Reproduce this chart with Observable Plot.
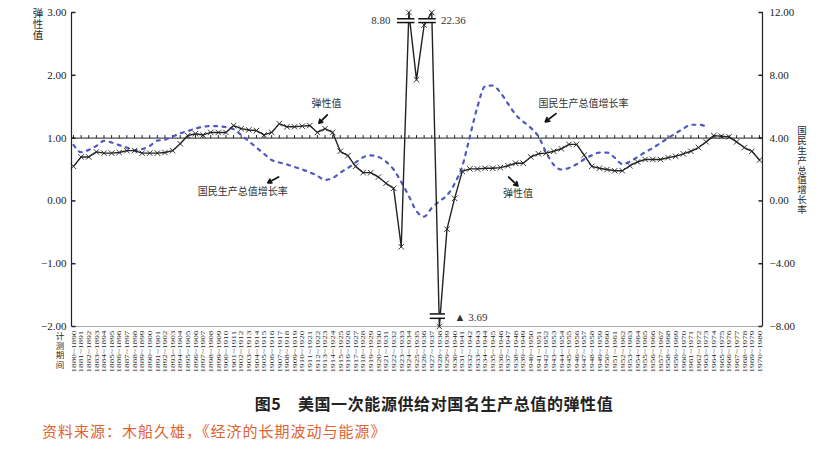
<!DOCTYPE html>
<html><head><meta charset="utf-8">
<script src="https://cdn.jsdelivr.net/npm/d3@7"></script>
<script src="https://cdn.jsdelivr.net/npm/@observablehq/plot@0.6"></script>
<style>
body{margin:0;background:#fff;}
#chart{position:relative;width:828px;height:385px;}
.title{width:828px;box-sizing:border-box;padding-left:40px;text-align:center;font:bold 16px "Noto Sans CJK SC",sans-serif;letter-spacing:0.6px;color:#222;margin-top:6px;}
.source{padding-left:42px;font:15px "Noto Sans CJK SC",sans-serif;letter-spacing:1px;color:#e0622e;margin-top:5px;}
</style></head><body>
<div id="chart"></div>
<div class="title">图5　美国一次能源供给对国名生产总值的弹性值</div>
<div class="source">资料来源：木船久雄，《经济的长期波动与能源》</div>
<script>
// start year of each 10-year measurement period (1880~1890 ... 1970~1980)
const startYears = d3.range(1880, 1971);
// elasticity of primary energy supply vs GNP (left axis)
const elasticity = [
  0.55,0.70,0.70,0.78,0.76,0.76,0.77,0.80,0.80,0.76,
  0.76,0.76,0.77,0.80,0.91,1.04,1.07,1.05,1.09,1.09,
  1.09,1.20,1.15,1.13,1.12,1.05,1.09,1.23,1.18,1.18,
  1.19,1.20,1.09,1.15,1.09,0.79,0.72,0.55,0.45,0.45,
  0.38,0.28,0.20,-0.73,8.80,1.93,2.80,22.36,-3.69,-0.45,
  0.04,0.47,0.51,0.51,0.52,0.52,0.53,0.56,0.60,0.60,
  0.70,0.75,0.76,0.79,0.83,0.90,0.90,0.73,0.55,0.52,
  0.50,0.48,0.48,0.56,0.62,0.66,0.66,0.66,0.69,0.71,
  0.75,0.79,0.85,0.94,1.04,1.03,1.02,0.94,0.85,0.79,
  0.65
];
// GNP growth rate, % (right axis), periods 1880~1890 ... 1963~1973
const gdpGrowth = [
  3.57,3.10,3.25,3.50,3.82,3.72,3.55,3.40,3.22,3.30,
  3.50,3.84,3.90,4.10,4.30,4.45,4.60,4.72,4.77,4.76,
  4.70,4.57,4.20,3.80,3.40,3.00,2.60,2.45,2.32,2.16,
  2.00,1.82,1.60,1.34,1.45,1.80,2.10,2.45,2.78,2.90,
  2.80,2.50,2.00,1.20,0.30,-0.65,-1.00,-0.45,-0.02,0.35,
  1.10,2.20,4.10,6.00,7.30,7.35,6.90,6.20,5.50,5.05,
  4.65,4.10,3.10,2.30,2.00,2.10,2.33,2.65,2.90,3.08,
  3.08,2.75,2.35,2.50,2.80,3.10,3.37,3.68,4.00,4.30,
  4.60,4.85,4.85,4.75
];
const leftTicks = [-2, -1, 0, 1, 2, 3];
const rightRatio = 4; // right axis value = 4 × left axis value
const xAxisTitle = "计测期间";
const leftTitle = "弹性值";
const rightTitle = "国民生产总值增长率";

const labels = [
  {x: 1913.2, y: 1.55, text: "弹性值", ax1: 1913.3, ay1: 1.37, ax2: 1912.2, ay2: 1.24},
  {x: 1902.2, y: 0.14, text: "国民生产总值增长率", ax1: 1906.9, ay1: 0.38, ax2: 1905.5, ay2: 0.29},
  {x: 1946.9, y: 1.55, text: "国民生产总值增长率", ax1: 1943.3, ay1: 1.39, ax2: 1941.9, ay2: 1.26},
  {x: 1938.3, y: 0.11, text: "弹性值", ax1: 1937.1, ay1: 0.38, ax2: 1938.3, ay2: 0.24}
];
const breakMarks = [
  {x1: 1922.5, x2: 1924.8, y1: 2.84, y2: 2.90},
  {x1: 1925.3, x2: 1927.6, y1: 2.84, y2: 2.90},
  {x1: 1926.8, x2: 1928.8, y1: -1.87, y2: -1.80}
];
const breakLabels = [
  {x: 1921.6, y: 2.87, text: "8.80", anchor: "end"},
  {x: 1928.2, y: 2.87, text: "22.36", anchor: "start"},
  {x: 1930.0, y: -1.86, text: "▲ 3.69", anchor: "start"}
];

const elData = elasticity.map((v, i) => ({year: startYears[i], v}));
const gdpData = gdpGrowth.map((v, i) => ({year: startYears[i], v: v / rightRatio}));

const tickRight = {draw(ctx) { ctx.moveTo(0, 0); ctx.lineTo(4, 0); }};
const tickLeft = {draw(ctx) { ctx.moveTo(0, 0); ctx.lineTo(-4, 0); }};
const tickUp = {draw(ctx) { ctx.moveTo(0, -3); ctx.lineTo(0, 0); }};

const serif = "Liberation Serif, serif";
const cjk = "Noto Sans CJK SC, sans-serif";

const plot = Plot.plot({
  width: 828, height: 385,
  marginLeft: 71, marginRight: 66, marginTop: 12, marginBottom: 59,
  insetLeft: 2, insetRight: 3,
  x: {domain: [1880, 1970]},
  y: {domain: [-2, 3], clamp: true},
  style: {fontFamily: serif, color: "#222", background: "#fff"},
  marks: [
    Plot.ruleY([-2], {stroke: "#aaa", strokeWidth: 1}),
    Plot.ruleX([1880], {dx: -2, y1: -2, y2: 3, stroke: "#222", strokeWidth: 1.2}),
    Plot.ruleX([1970], {dx: 3, y1: -2, y2: 3, stroke: "#222", strokeWidth: 1.2}),
    Plot.dot(leftTicks, {x: 1880, y: d => d, dx: -2, symbol: tickRight, fill: "none", stroke: "#222", r: 2}),
    Plot.dot(leftTicks, {x: 1970, y: d => d, dx: 3, symbol: tickLeft, fill: "none", stroke: "#222", r: 2}),
    Plot.axisY({ticks: leftTicks, tickFormat: d3.format(".2f"), tickSize: 0, tickPadding: 5, fontSize: 11, fontFamily: serif, anchor: "left"}),
    Plot.axisY({ticks: leftTicks, tickFormat: d => d3.format(".2f")(d * rightRatio), tickSize: 0, tickPadding: 7, fontSize: 11, fontFamily: serif, anchor: "right"}),
    Plot.axisX({ticks: startYears, tickFormat: d => `${d}~${d + 10}`, tickRotate: -90, tickSize: 0, tickPadding: 4, fontSize: 7, fontFamily: serif, textAnchor: "end"}),
    Plot.ruleY([1], {stroke: "#222", strokeWidth: 1}),
    Plot.dot(startYears, {x: d => d, y: 1, symbol: tickUp, fill: "none", stroke: "#222", strokeWidth: 1, r: 2}),
    Plot.line(gdpData, {x: "year", y: "v", stroke: "#5058c0", strokeWidth: 2.2, strokeDasharray: "3,5.5", curve: "monotone-x"}),
    Plot.line(elData, {x: "year", y: "v", stroke: "#222", strokeWidth: 1.4}),
    Plot.dot(elData, {x: "year", y: "v", symbol: "times", r: 2.6, stroke: "#222", strokeWidth: 0.9}),
    Plot.rect(breakMarks, {x1: "x1", x2: "x2", y1: "y1", y2: "y2", fill: "white"}),
    Plot.ruleY(breakMarks, {x1: "x1", x2: "x2", y: "y1", stroke: "#111", strokeWidth: 1.5}),
    Plot.ruleY(breakMarks, {x1: "x1", x2: "x2", y: "y2", stroke: "#111", strokeWidth: 1.5}),
    Plot.text(breakLabels.filter(d => d.anchor === "end"), {x: "x", y: "y", text: "text", textAnchor: "end", fontSize: 11, fontFamily: serif, fill: "#333"}),
    Plot.text(breakLabels.filter(d => d.anchor === "start"), {x: "x", y: "y", text: "text", textAnchor: "start", fontSize: 11, fontFamily: serif, fill: "#333"}),
    Plot.text(labels, {x: "x", y: "y", text: "text", fontSize: 10, fontFamily: cjk, fill: "#333"}),
    Plot.arrow(labels, {x1: "ax1", y1: "ay1", x2: "ax2", y2: "ay2", stroke: "#111", strokeWidth: 1.8, headLength: 6})
  ]
});
const chart = document.getElementById("chart");
chart.appendChild(plot);
plot.querySelectorAll('[aria-label="x-axis tick label"] text').forEach(t => {
  t.setAttribute("textLength", "42");
  t.setAttribute("lengthAdjust", "spacingAndGlyphs");
});
// vertical (stacked) axis titles as single SVG texts in vertical writing mode
function vtitle(text, cx, top, size, spacing) {
  d3.select(plot).append("text")
    .attr("x", cx).attr("y", top)
    .attr("font-family", cjk).attr("font-size", size).attr("fill", "#2a2a2a")
    .attr("text-anchor", "start")
    .style("writing-mode", "vertical-rl")
    .style("letter-spacing", spacing + "px")
    .text(text);
}
vtitle(leftTitle, 38, 8, 10.5, 0.5);
vtitle(rightTitle, 802, 126, 9.5, 0.3);
vtitle(xAxisTitle, 60, 332, 8.5, 1);
</script>
</body></html>
